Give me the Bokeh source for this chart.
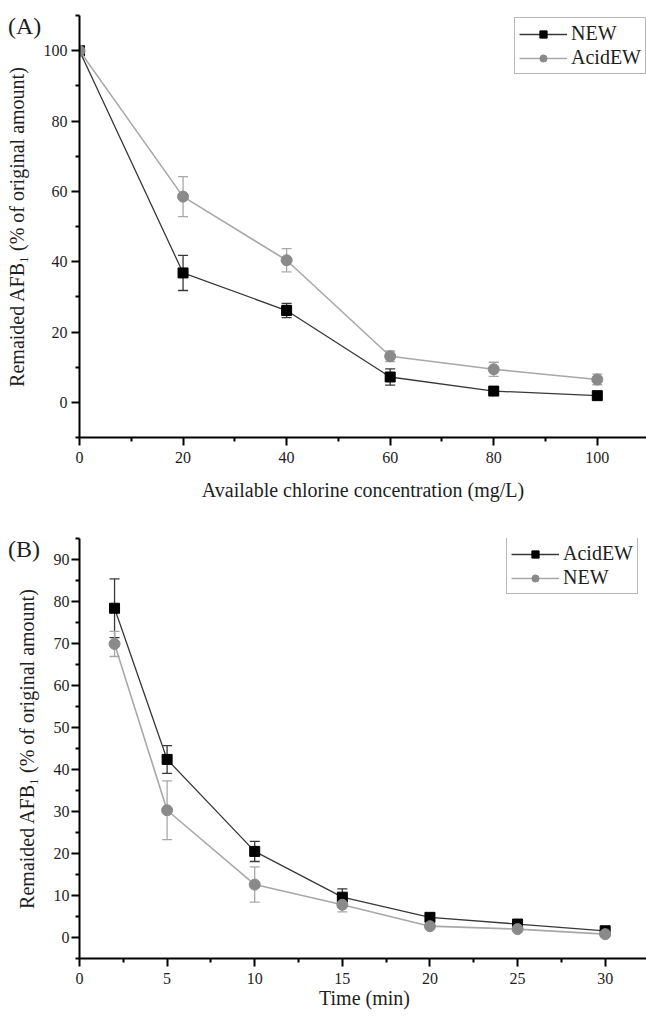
from bokeh.plotting import figure
from bokeh.models import (ColumnDataSource, Whisker, TeeHead, FixedTicker,
                          Legend, LegendItem, Range1d, Div)
from bokeh.layouts import column
from bokeh.embed import file_html
from bokeh.resources import INLINE

# ---------------- Panel A data ----------------
conc = [0, 20, 40, 60, 80, 100]
a_new = [100, 36.8, 26.1, 7.2, 3.2, 1.9]
a_new_err = [0, 5.0, 2.0, 2.3, 0.6, 0.5]
a_acid = [100, 58.5, 40.4, 13.1, 9.4, 6.5]
a_acid_err = [0, 5.7, 3.3, 1.5, 2.0, 1.5]
a_names = ["NEW", "AcidEW"]
a_xticks = [0, 20, 40, 60, 80, 100]
a_yticks = [0, 20, 40, 60, 80, 100]

# ---------------- Panel B data ----------------
times = [2, 5, 10, 15, 20, 25, 30]
b_acid = [78.4, 42.4, 20.5, 9.6, 4.8, 3.2, 1.6]
b_acid_err = [7.0, 3.3, 2.4, 2.0, 0.7, 0.5, 0.5]
b_new = [69.9, 30.3, 12.6, 7.8, 2.7, 2.0, 0.8]
b_new_err = [3.0, 7.0, 4.2, 1.7, 0.7, 0.5, 0.5]
b_names = ["AcidEW", "NEW"]
b_xticks = [0, 5, 10, 15, 20, 25, 30]
b_yticks = [0, 10, 20, 30, 40, 50, 60, 70, 80, 90]

FONT = "Liberation Serif"
DARK = "#383838"
LIGHT = "#a8a8a8"
MARK_GRAY = "#8a8a8a"
TXT = "#1e1e1e"


def whisker(p, x, y, e, color):
    xs = [xi for xi, ei in zip(x, e) if ei > 0]
    up = [yi + ei for yi, ei in zip(y, e) if ei > 0]
    lo = [yi - ei for yi, ei in zip(y, e) if ei > 0]
    src = ColumnDataSource(dict(x=xs, upper=up, lower=lo))
    w = Whisker(source=src, base="x", upper="upper", lower="lower",
                line_color=color, line_width=1.3,
                upper_head=TeeHead(size=10, line_color=color, line_width=1.3),
                lower_head=TeeHead(size=10, line_color=color, line_width=1.3))
    p.add_layout(w)


def panel(x, s1, e1, s2, e2, names, xr, yr, xt, xminor, yt, yminor,
          fw, fh, bl, bt, bb, xlabel, xlab_standoff, ylab_standoff,
          ytick_standoff, leg_loc):
    p = figure(frame_width=fw, frame_height=fh, min_border_left=bl,
               min_border_right=0, min_border_top=bt, min_border_bottom=bb,
               x_range=Range1d(*xr), y_range=Range1d(*yr),
               output_backend="svg", toolbar_location=None,
               background_fill_color="white", border_fill_color="white")
    p.outline_line_color = None
    p.xgrid.visible = False
    p.ygrid.visible = False

    whisker(p, x, s1, e1, DARK)
    l1 = p.line(x, s1, line_color=DARK, line_width=1.3)
    m1 = p.scatter(x, s1, marker="square", size=10, fill_color="black",
                   line_color="black")
    whisker(p, x, s2, e2, LIGHT)
    l2 = p.line(x, s2, line_color=LIGHT, line_width=1.6)
    m2 = p.scatter(x, s2, marker="circle", size=11, fill_color=MARK_GRAY,
                   line_color=MARK_GRAY)

    p.xaxis.ticker = FixedTicker(ticks=xt, minor_ticks=xminor)
    p.yaxis.ticker = FixedTicker(ticks=yt, minor_ticks=yminor)
    for ax in (p.xaxis[0], p.yaxis[0]):
        ax.axis_line_width = 2
        ax.axis_line_color = "black"
        ax.major_tick_line_width = 2
        ax.minor_tick_line_width = 2
        ax.major_tick_line_color = "black"
        ax.minor_tick_line_color = "black"
        ax.major_tick_out = 8
        ax.major_tick_in = 0
        ax.minor_tick_out = 4
        ax.minor_tick_in = 0
        ax.major_label_text_font = FONT
        ax.major_label_text_font_size = "16px"
        ax.major_label_text_color = TXT
        ax.axis_label_text_font = FONT
        ax.axis_label_text_font_size = "20px"
        ax.axis_label_text_font_style = "normal"
        ax.axis_label_text_color = TXT
    p.xaxis.major_label_standoff = 6
    p.yaxis.major_label_standoff = ytick_standoff
    p.xaxis.axis_label = xlabel
    p.xaxis.axis_label_standoff = xlab_standoff
    p.yaxis.axis_label = "Remaided AFB\u2081 (% of original amount)"
    p.yaxis.axis_label_standoff = ylab_standoff

    legend = Legend(items=[LegendItem(label=names[0], renderers=[l1, m1]),
                           LegendItem(label=names[1], renderers=[l2, m2])],
                    location=leg_loc, padding=4, spacing=1,
                    glyph_width=48, glyph_height=18, label_height=18,
                    label_standoff=4, label_text_font=FONT,
                    label_text_font_size="20px", label_text_color=TXT,
                    border_line_color="#707070", border_line_width=1.5,
                    background_fill_color="white", background_fill_alpha=1.0)
    p.add_layout(legend)
    return p


pA = panel(conc, a_new, a_new_err, a_acid, a_acid_err, a_names,
           (0, 109.5), (-10, 110), a_xticks, [10, 30, 50, 70, 90],
           a_yticks, [-10, 10, 30, 50, 70, 90, 110],
           567, 422, 79, 15, 80, "Available chlorine concentration (mg/L)",
           13, 13, 4, (435, 363))

pB = panel(times, b_acid, b_acid_err, b_new, b_new_err, b_names,
           (0, 32.53), (-5, 95), b_xticks,
           [2.5, 7.5, 12.5, 17.5, 22.5, 27.5, 32.5],
           b_yticks, [-5, 5, 15, 25, 35, 45, 55, 65, 75, 85, 95],
           570, 420, 76, 21, 63, "Time (min)", 0, 13, 2, (436, 364))


def tag(text, top):
    return Div(text=text, styles={"position": "absolute", "left": "8px",
                                  "top": f"{top}px", "z-index": "10",
                                  "font-family": FONT, "font-size": "24px",
                                  "line-height": "1", "color": TXT,
                                  "margin": "0", "padding": "0"})


tagA = tag("(A)", 14)
tagB = tag("(B)", 537)

layout = column(tagA, tagB, pA, pB, spacing=0)
open("out.html", "w").write(file_html(layout, INLINE))
